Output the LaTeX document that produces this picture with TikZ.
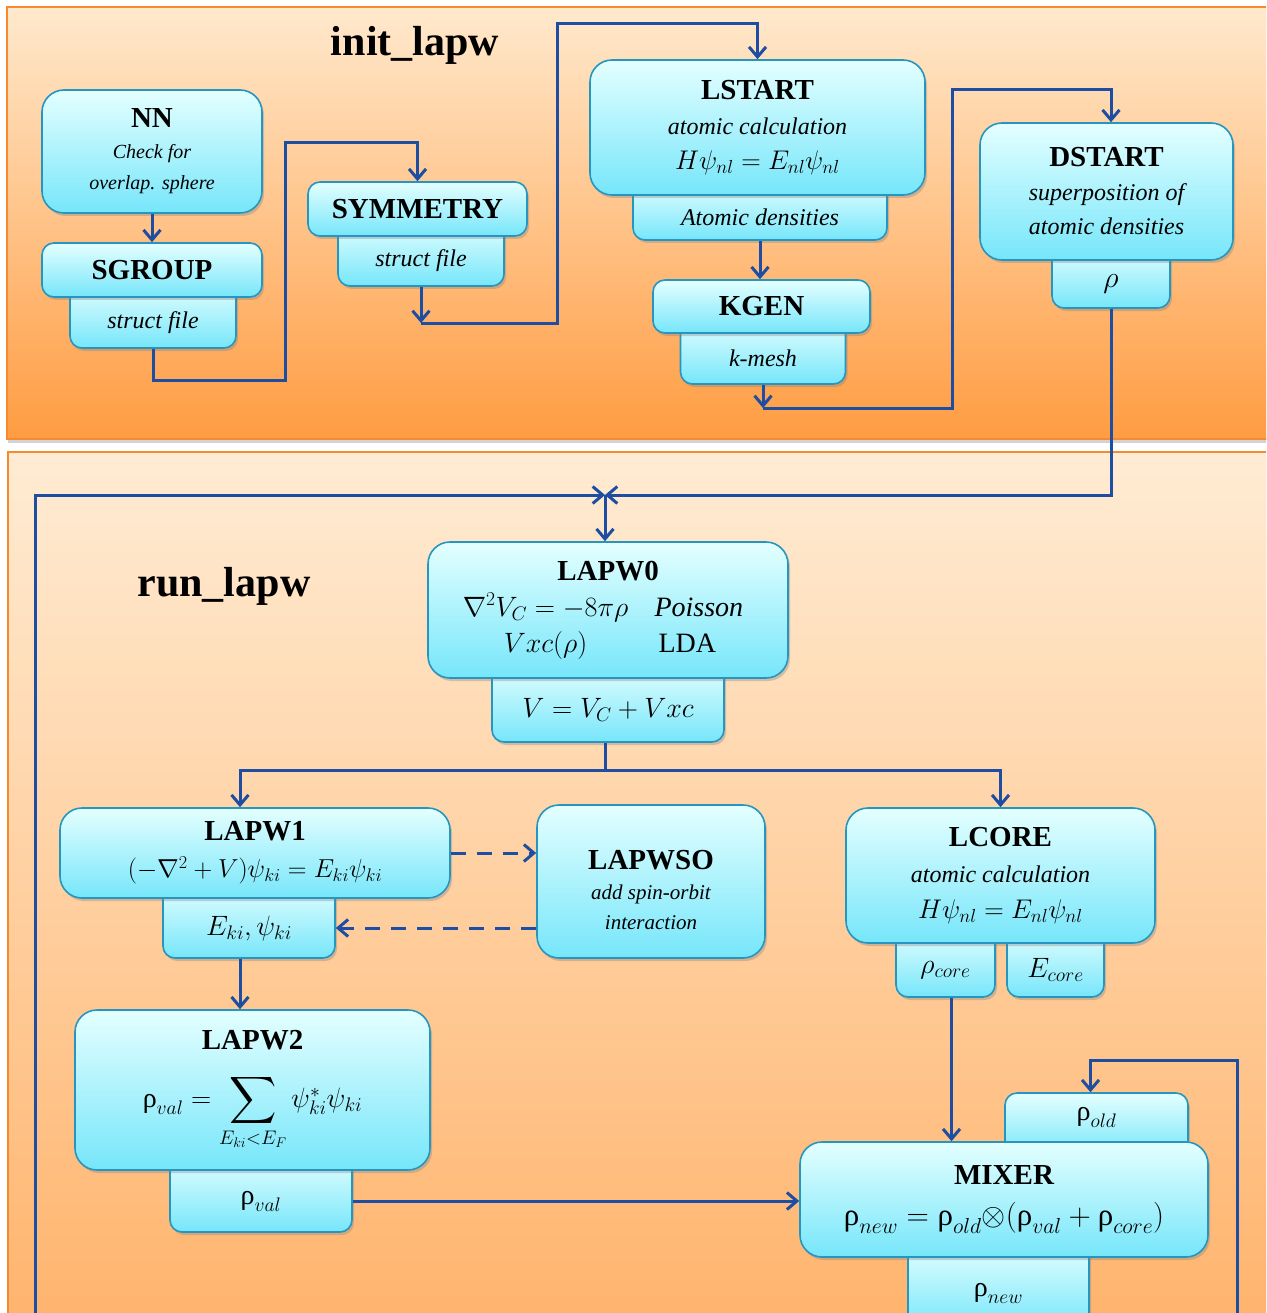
\RequirePackage{fix-cm}
\documentclass[tikz,border=0pt]{standalone}
\usepackage{exscale}
\usepackage{fontspec}
\setmainfont{Liberation Serif}
\usepackage{graphicx}
\usetikzlibrary{shadows,arrows.meta,calc}

\definecolor{linkblue}{RGB}{30,78,162}
\definecolor{boxline}{RGB}{38,150,192}
\definecolor{boxtop}{RGB}{228,255,255}
\definecolor{boxbot}{RGB}{118,230,250}
\definecolor{paneledge}{RGB}{246,138,46}
\definecolor{initTop}{RGB}{255,233,205}
\definecolor{initBot}{RGB}{255,156,66}
\definecolor{runTop}{RGB}{255,236,212}
\definecolor{runBot}{RGB}{255,178,106}

% bold box heading
\newcommand\boxtitle[1]{{\fontsize{29}{30}\selectfont\bfseries\upshape #1}}
% move a box's text without changing the box size
\newcommand\shiftv[2]{\raisebox{#1}[\height][\depth]{#2}}
% upright rho
\newcommand\urho{\mbox{\upshape ρ}}

\begin{document}
\begin{tikzpicture}[x=1pt,y=-1pt,
  link/.style={draw=linkblue, line width=3pt, -{Straight Barb[length=10pt,width=17pt]}},
  wire/.style={draw=linkblue, line width=3pt},
  dashlink/.style={link, dash pattern=on 15pt off 11pt},
  mainbox/.style={draw=boxline, line width=1.6pt, top color=boxtop, bottom color=boxbot,
    rounded corners=22pt, inner sep=0pt, align=center,
    drop shadow={shadow xshift=2pt, shadow yshift=-3pt, opacity=0.35}},
  smallbox/.style={mainbox, rounded corners=12pt},
  panel/.style={draw=paneledge, line width=2pt,
    drop shadow={shadow xshift=1pt, shadow yshift=-4pt, opacity=0.35}},
  heading/.style={inner sep=0pt, font=\fontsize{42}{42}\selectfont\bfseries}
]
\clip (0,0) rectangle (1266,1313);

% the two stages
\path[panel, top color=initTop, bottom color=initBot] (7,7) rectangle (1290,439);
\path[panel, top color=runTop, bottom color=runBot] (8,452) rectangle (1290,1350);

\node[heading] (inittitle) at (415,45) {init\_lapw};
\node[heading] (runtitle) at (224,586) {run\_lapw};

% ---------- output boxes (drawn first, tucked under their programs)
\begin{scope}[font=\fontsize{24}{30}\selectfont\itshape]
\node[smallbox, minimum width=166pt, minimum height=65pt] (sgsub) at (153,315.5) {\shiftv{-7pt}{struct file}};
\node[smallbox, minimum width=166pt, minimum height=64pt] (symsub) at (421,254) {\shiftv{-7pt}{struct file}};
\node[smallbox, minimum width=254pt, minimum height=59pt] (lssub) at (760,210.5) {\shiftv{-7pt}{Atomic densities}};
\node[smallbox, minimum width=165pt, minimum height=65pt] (kgsub) at (763,351.5) {\shiftv{-7pt}{k-mesh}};
\node[smallbox, minimum width=118pt, minimum height=62pt, font=\fontsize{30}{30}\selectfont] (dssub) at (1111,277) {\shiftv{-7pt}{$\rho$}};
\end{scope}
\begin{scope}[font=\fontsize{28}{30}\selectfont]
\node[smallbox, minimum width=232pt, minimum height=78pt] (vsub) at (608,703) {\shiftv{-7pt}{$V = V_C + Vxc$}};
\node[smallbox, minimum width=172pt, minimum height=74pt] (esub) at (249,921) {\shiftv{-7pt}{$E_{ki},\psi_{ki}$}};
\node[smallbox, minimum width=182pt, minimum height=76pt] (valsub) at (261,1194) {\shiftv{-7pt}{$\urho_{val}$}};
\node[smallbox, minimum width=99pt, minimum height=68pt] (coresub) at (945.5,963) {\shiftv{-7pt}{$\rho_{core}$}};
\node[smallbox, minimum width=97pt, minimum height=68pt] (ecoresub) at (1055.5,963) {\shiftv{-7pt}{$E_{core}$}};
\node[smallbox, minimum width=183pt, minimum height=63pt] (oldsub) at (1096.5,1124.5) {\shiftv{7pt}{$\urho_{old}$}};
\node[smallbox, minimum width=181pt, minimum height=87pt] (newsub) at (998.5,1286.5) {\shiftv{-7pt}{$\urho_{new}$}};
\end{scope}

% ---------- init_lapw programs
\node[mainbox, minimum width=220pt, minimum height=123pt, font=\fontsize{20}{31}\selectfont\itshape]
  (nn) at (152,151.5) {\boxtitle{NN}\\Check for\\overlap. sphere};
\node[smallbox, minimum width=220pt, minimum height=54pt] (sgroup) at (152,270) {\boxtitle{SGROUP}};
\node[smallbox, minimum width=219pt, minimum height=54pt] (sym) at (417.5,209) {\boxtitle{SYMMETRY}};
\node[mainbox, minimum width=335pt, minimum height=135pt, font=\fontsize{24}{35}\selectfont\itshape]
  (lstart) at (757.5,127.5) {\boxtitle{LSTART}\\atomic calculation\\{\fontsize{27}{35}\selectfont$H\psi_{nl} = E_{nl}\psi_{nl}$}};
\node[smallbox, minimum width=217pt, minimum height=53pt] (kgen) at (761.5,306.5) {\boxtitle{KGEN}};
\node[mainbox, minimum width=253pt, minimum height=137pt, font=\fontsize{24}{34}\selectfont\itshape]
  (dstart) at (1106.5,191.5) {\boxtitle{DSTART}\\superposition of\\atomic densities};

% ---------- run_lapw programs
\node[mainbox, minimum width=360pt, minimum height=136pt, font=\fontsize{28}{36}\selectfont]
  (lapw0) at (608,610) {\boxtitle{LAPW0}\\
  \makebox[190pt]{$\nabla^2V_C=-8\pi\rho$}\makebox[125pt][l]{\hspace{14pt}\itshape Poisson}\\
  \makebox[190pt]{$Vxc(\rho)$}\makebox[125pt][l]{\hspace{18pt}LDA}};
\node[mainbox, minimum width=390pt, minimum height=90pt, font=\fontsize{26}{37}\selectfont]
  (lapw1) at (255,853) {\boxtitle{LAPW1}\\$(-\nabla^2 + V)\psi_{ki} = E_{ki}\psi_{ki}$};
\node[mainbox, minimum width=228pt, minimum height=153pt, font=\fontsize{21}{30}\selectfont\itshape]
  (lapwso) at (651,881.5) {\rule{0pt}{37pt}\boxtitle{LAPWSO}\\add spin-orbit\\interaction};
\node[mainbox, minimum width=355pt, minimum height=160pt, font=\fontsize{28}{36}\selectfont]
  (lapw2) at (252.5,1090) {\boxtitle{LAPW2}\\[22pt]
  $\urho_{val} = \mathop{\vcenter{\hbox{\scalebox{1.32}{$\displaystyle\sum$}}}}\limits_{E_{ki}<E_F}\psi^{*}_{ki}\psi_{ki}$};
\node[mainbox, minimum width=309pt, minimum height=135pt, font=\fontsize{24}{36}\selectfont\itshape]
  (lcore) at (1000.5,875.5) {\boxtitle{LCORE}\\atomic calculation\\{\fontsize{27}{36}\selectfont$H\psi_{nl} = E_{nl}\psi_{nl}$}};
\node[mainbox, minimum width=408pt, minimum height=115pt, font=\fontsize{31}{41}\selectfont]
  (mixer) at (1004,1199.5) {\boxtitle{MIXER}\\$\urho_{new} = \urho_{old}{\otimes}(\urho_{val} + \urho_{core})$};

% ---------- routing points
\coordinate (j) at (605,495);
\coordinate (s) at (605,770);
\coordinate (colA) at (240,0);
\coordinate (dcol) at (1111,0);
\coordinate (w1) at (285,380);
\coordinate (w2) at (285,143);
\coordinate (c1) at (421,323);
\coordinate (w3) at (557,323);
\coordinate (w4) at (557,24);
\coordinate (c2) at (763,408);
\coordinate (w5) at (952,408);
\coordinate (w6) at (952,90);
\coordinate (lb) at (35,1330);
\coordinate (rb) at (1237,1330);
\coordinate (r1) at (1237,1060);

% ---------- init_lapw flow
\draw[link] (nn.south) -- (sgroup.north);
\draw[link] (sgsub.south) |- (w1) -- (w2) -| (sym.north);
\draw[link] (symsub.south) -- (c1);
\draw[link] (c1) -- (w3) -- (w4) -| (lstart.north);
\draw[link] (lssub.south) -- (lssub.south |- kgen.north);
\draw[link] (kgsub.south) -- (c2);
\draw[link] (c2) -- (w5) -- (w6) -| (dstart.north -| dcol);
\draw[link] (dssub.south -| dcol) |- (j);

% ---------- run_lapw flow
\draw[link] (lb) |- (j);
\draw[link] (j) -- (lapw0.north -| j);
\draw[wire] (vsub.south -| j) -- (s);
\draw[link] (s) -| (lapw1.north -| colA);
\draw[link] (s) -| (lcore.north);
\draw[dashlink] (lapw1.east) -- (lapw1.east -| lapwso.west);
\draw[dashlink] ([yshift=-7pt]esub.east -| lapwso.west) -- ([yshift=-7pt]esub.east);
\draw[link] (esub.south -| colA) -- (lapw2.north -| colA);
\draw[link] ([yshift=-7pt]valsub.east) -- ([yshift=-7pt]valsub.east -| mixer.west);
\draw[link] ([xshift=6pt]coresub.south) -- ([xshift=6pt]coresub.south |- mixer.north);
\draw[link] (rb) -- (r1) -| ([xshift=-6pt]oldsub.north);
\end{tikzpicture}
\end{document}
